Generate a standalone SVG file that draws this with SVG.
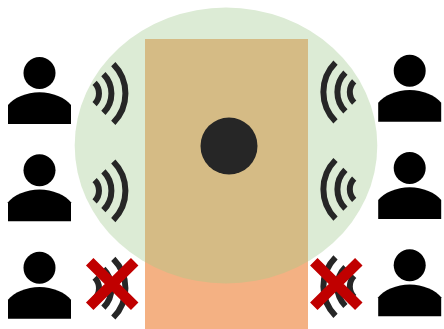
<svg xmlns="http://www.w3.org/2000/svg" width="444" height="329" viewBox="0 0 444 329">
<style>
.w{fill:none;stroke:#262626;stroke-width:6}
.x{fill:none;stroke:#c00000;stroke-width:10.6}
</style>
<defs>
<clipPath id="c"><ellipse cx="226" cy="145.500" rx="151.300" ry="138"/></clipPath>
<g id="person"><circle cx="0" cy="0" r="16"/><path d="M-31.500 32C-26 25 -13 19.300 0 19.300C13 19.300 26 25 31.500 32V51H-31.500Z"/></g>
<g id="wl"><path class="w" d="M113.300 -29.300A41.500 41.500 0 0 1 113.300 29.300M103.400 -19.400A27.500 27.500 0 0 1 103.400 19.400M94.600 -10.600A15 15 0 0 1 94.600 10.600"/></g>
<g id="wr"><path class="w" d="M335.500 -29.300A41.500 41.500 0 0 0 335.500 29.300M345.400 -19.400A27.500 27.500 0 0 0 345.400 19.400M354.200 -10.600A15 15 0 0 0 354.200 10.600"/></g>
</defs>
<g id="area">
<ellipse cx="226" cy="145.500" rx="151.300" ry="138" fill="#dcebd5"/>
<rect x="145" y="39" width="163" height="290" fill="#f4b183"/>
<rect x="145" y="39" width="163" height="290" fill="#d5bb85" clip-path="url(#c)"/>
</g>
<g id="speaker"><circle cx="229" cy="146" r="28.500" fill="#262626"/></g>
<g id="person-l1"><use href="#person" x="39.500" y="73"/></g>
<g id="person-l2"><use href="#person" x="39.500" y="170.300"/></g>
<g id="person-l3"><use href="#person" x="39.500" y="267.700"/></g>
<g id="person-r1"><use href="#person" x="409.700" y="70.700"/></g>
<g id="person-r2"><use href="#person" x="409.700" y="168"/></g>
<g id="person-r3"><use href="#person" x="409.700" y="265.300"/></g>
<g id="wave-l1"><use href="#wl" y="93.500"/></g>
<g id="wave-l2"><use href="#wl" y="190.800"/></g>
<g id="wave-l3"><use href="#wl" y="288.200"/></g>
<g id="wave-r1"><use href="#wr" y="92"/></g>
<g id="wave-r2"><use href="#wr" y="189.300"/></g>
<g id="wave-r3"><use href="#wr" y="286.600"/></g>
<g id="cross-l"><path class="x" d="M89.700 261.700L134.700 306.300M134.700 261.700L89.700 306.300"/></g>
<g id="cross-r"><path class="x" d="M313.800 261.700L358.800 306.300M358.800 261.700L313.800 306.300"/></g>
</svg>
